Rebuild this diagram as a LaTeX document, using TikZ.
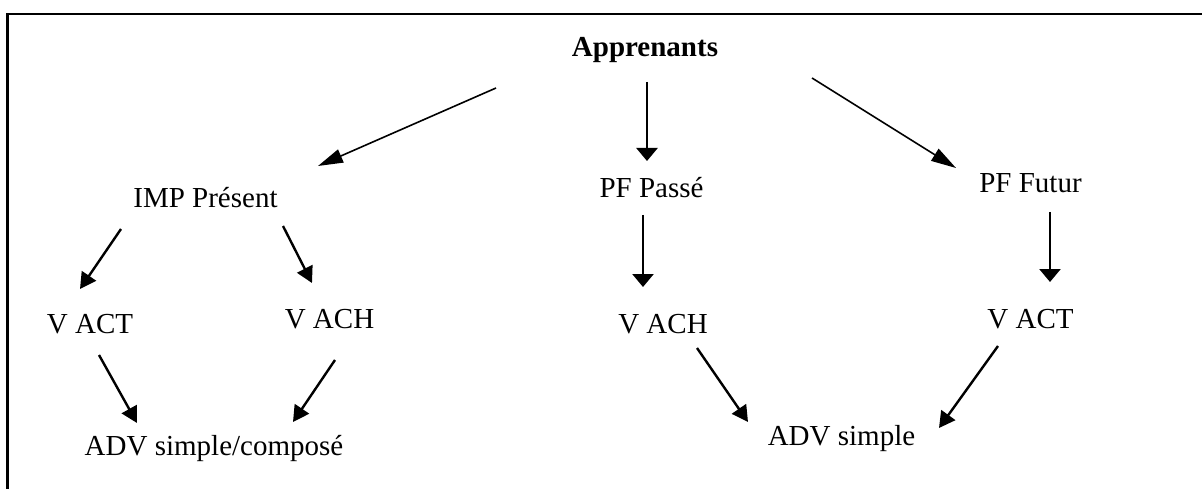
\documentclass[tikz,border=0pt]{standalone}
\usepackage{fontspec}
\setmainfont{Liberation Serif}
\usetikzlibrary{arrows.meta}

\tikzset{
  lbl/.style={inner sep=0pt, anchor=base, font=\fontsize{29}{35}\selectfont},
  longarr/.style={-{Triangle[length=25pt,width=14pt]}, line width=1.6pt},
  downarr/.style={-{Triangle[length=13pt,width=21pt]}, line width=2.6pt},
  arr/.style={-{Triangle[length=16pt,width=17pt]}, line width=2.4pt},
}

\begin{document}
\begin{tikzpicture}[x=1pt, y=-1pt]
        \useasboundingbox (0,0) rectangle (1202,489);
        \draw[line width=2.7pt] (7.5,495) -- (7.5,14) -- (1210,14);

        \node[lbl, font=\fontsize{29}{35}\selectfont\bfseries] (App) at (645,57) {Apprenants};

        \node[lbl] (IMP) at (205.5,208) {IMP Présent};
        \node[lbl] (PFP) at (651.5,198) {PF Passé};
        \node[lbl] (PFF) at (1030.5,193) {PF Futur};

        \node[lbl] (VACTa) at (90,333)    {V ACT};
        \node[lbl] (VACHa) at (329.5,328) {V ACH};
        \node[lbl] (VACHb) at (663,333)   {V ACH};
        \node[lbl] (VACTb) at (1030.5,328) {V ACT};

        \node[lbl] (ADVa) at (214,455)   {ADV simple/composé};
        \node[lbl] (ADVb) at (841.5,445) {ADV simple};

        \draw[longarr] ([shift={(-149,31)}]App.base) -- ([shift={(112.5,-42)}]IMP.base);
        \draw[downarr] ([shift={(2,25)}]App.base) -- ([shift={(-4.5,-37)}]PFP.base);
        \draw[longarr] ([shift={(167,21)}]App.base) -- ([shift={(-74.5,-25)}]PFF.base);

        \draw[arr] ([shift={(-84.5,21)}]IMP.base) -- ([shift={(-10,-44)}]VACTa.base);
        \draw[arr] ([shift={(77.5,18)}]IMP.base) -- ([shift={(-17.5,-45)}]VACHa.base);
        \draw[downarr] ([shift={(-8.5,17)}]PFP.base) -- ([shift={(-20,-46)}]VACHb.base);
        \draw[downarr] ([shift={(19.5,19)}]PFF.base) -- ([shift={(19.5,-46)}]VACTb.base);

        \draw[arr] ([shift={(9,22)}]VACTa.base) -- ([shift={(-77,-32)}]ADVa.base);
        \draw[arr] ([shift={(5.5,32)}]VACHa.base) -- ([shift={(79,-33)}]ADVa.base);
        \draw[arr] ([shift={(34,15)}]VACHb.base) -- ([shift={(-93.5,-23)}]ADVb.base);
        \draw[arr] ([shift={(-32.5,18)}]VACTb.base) -- ([shift={(97.5,-17)}]ADVb.base);
      \end{tikzpicture}
\end{document}
